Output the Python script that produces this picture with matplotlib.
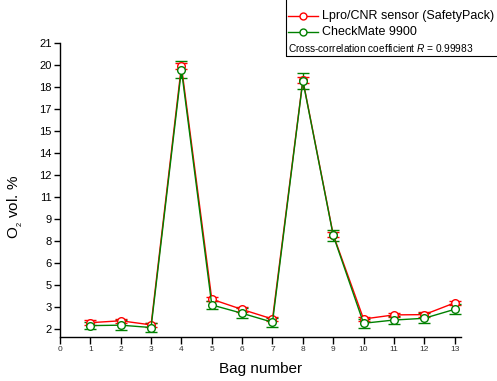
import numpy as np
import matplotlib
matplotlib.use("Agg")
import matplotlib.pyplot as plt
from matplotlib.lines import Line2D
from matplotlib.patches import Rectangle

plt.rcParams['font.family'] = ['Liberation Sans', 'DejaVu Sans']
plt.rcParams['mathtext.fontset'] = 'custom'
plt.rcParams['mathtext.rm'] = 'Liberation Sans'
plt.rcParams['mathtext.it'] = 'Liberation Sans:italic'

# data
bags = [1, 2, 3, 4, 5, 6, 7, 8, 9, 10, 11, 12, 13]
lpro = [2.45, 2.58, 2.30, 19.95, 4.05, 3.35, 2.70, 19.00, 8.45, 2.70, 2.98, 3.00, 3.80]
lpro_err = [0.15, 0.15, 0.15, 0.20, 0.15, 0.15, 0.15, 0.20, 0.15, 0.15, 0.15, 0.15, 0.15]
checkmate = [2.25, 2.28, 2.12, 19.70, 3.66, 3.09, 2.48, 18.95, 8.40, 2.41, 2.63, 2.75, 3.36]
checkmate_err = [0.25, 0.35, 0.30, 0.60, 0.30, 0.35, 0.30, 0.55, 0.40, 0.30, 0.25, 0.35, 0.35]

x_ticks = list(range(0, 14))
y_ticks = [2, 3.5, 5, 6.5, 8, 9.5, 11, 12.5, 14, 15.5, 17, 18.5, 20, 21.5]
y_ticklabels = ['2', '3', '5', '6', '8', '9', '11', '12', '14', '15', '17', '18', '20', '21']

red = '#ff0000'
green = '#008000'

fig = plt.figure(figsize=(4.97, 3.81), dpi=100)
ax = fig.add_axes([0.1207, 0.1165, 0.8063, 0.7699])

ax.errorbar(bags, lpro, yerr=lpro_err, color=red, lw=1, marker='o', ms=5.5,
            mfc='white', mec=red, mew=1, capsize=4, capthick=1, elinewidth=1)
ax.errorbar(bags, checkmate, yerr=checkmate_err, color=green, lw=1, marker='o', ms=5.5,
            mfc='white', mec=green, mew=1, capsize=4.5, capthick=1, elinewidth=1)

ax.set_xlim(0, 13.2)
ax.set_ylim(1.5, 21.5)
ax.set_xticks(x_ticks)
ax.set_yticks(y_ticks)
ax.set_yticklabels(y_ticklabels)
ax.tick_params(axis='x', labelsize=6, length=5, width=1, pad=2, labelcolor='#333333')
ax.tick_params(axis='y', labelsize=8, length=4, width=1, pad=2)
for s in ['top', 'right']:
    ax.spines[s].set_visible(False)
for s in ['left', 'bottom']:
    ax.spines[s].set_linewidth(1)

ax.set_xlabel('Bag number', fontsize=11, labelpad=6)
ax.set_ylabel('O$_{\\mathregular{_2}}$ vol. %', fontsize=11)
ax.yaxis.set_label_coords(-0.087, 0.442)

# legend box drawn in figure pixels
W, H = 497.0, 381.0
fig.patches.append(Rectangle((286 / W, 1 - 56 / H), 1.0, 56 / H + 0.01,
                             transform=fig.transFigure, fill=False,
                             edgecolor='black', lw=0.8))
rows = [(16, red, 'Lpro/CNR sensor (SafetyPack)'), (32.3, green, 'CheckMate 9900')]
for yy, c, lab in rows:
    fig.lines.append(Line2D([288 / W, 318 / W], [1 - yy / H] * 2, transform=fig.transFigure,
                            color=c, lw=1))
    fig.lines.append(Line2D([303 / W], [1 - yy / H], transform=fig.transFigure, color=c,
                            marker='o', ms=5, mfc='white', mec=c, mew=1))
    fig.text(321.5 / W, 1 - yy / H, lab, fontsize=9, va='center', ha='left')
fig.text(287.5 / W, 1 - 48.3 / H, 'Cross-correlation coefficient $R$ = 0.99983',
         fontsize=7.3, va='center', ha='left')

fig.savefig('out.png', dpi=100)
